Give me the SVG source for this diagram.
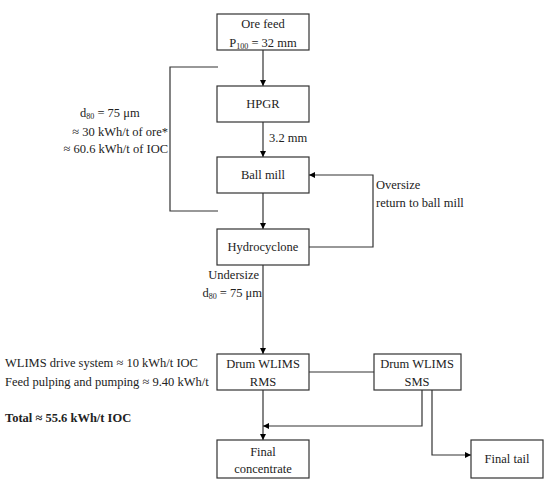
<svg xmlns="http://www.w3.org/2000/svg" width="550" height="485" viewBox="0 0 550 485">
<defs>
<marker id="ah" viewBox="0 0 8 8" refX="8" refY="4" markerWidth="6" markerHeight="6" markerUnits="userSpaceOnUse" orient="auto">
<path d="M0,0 L8,4 L0,8 z" fill="#000"/>
</marker>
</defs>
<style>
.box{fill:#fff;stroke:#333;stroke-width:1.2}
.ln{fill:none;stroke:#333;stroke-width:1.2}
text{font-family:'Liberation Serif','DejaVu Serif',serif;font-size:12.5px;fill:#222}
.c{text-anchor:middle}
.e{text-anchor:end}
.b{font-weight:bold}
.s{font-size:8px}
</style>
<rect width="550" height="485" fill="#fff"/>
<g id="connectors">
<line class="ln" x1="263" y1="50" x2="263" y2="86" marker-end="url(#ah)"/>
<line class="ln" x1="263" y1="122" x2="263" y2="157" marker-end="url(#ah)"/>
<line class="ln" x1="263" y1="193" x2="263" y2="229" marker-end="url(#ah)"/>
<polyline class="ln" points="309,247 373,247 373,175 309,175" marker-end="url(#ah)"/>
<line class="ln" x1="263" y1="265" x2="263" y2="354" marker-end="url(#ah)"/>
<line class="ln" x1="309" y1="372" x2="374" y2="372"/>
<line class="ln" x1="263" y1="390" x2="263" y2="440" marker-end="url(#ah)"/>
<polyline class="ln" points="422,390 422,426 263,426" marker-end="url(#ah)"/>
<polyline class="ln" points="432,390 432,455 471,455" marker-end="url(#ah)"/>
<polyline class="ln" points="218,67 170,67 170,211 218,211"/>
</g>
<g id="ore-feed">
<rect class="box" x="217" y="14" width="92" height="36"/>
<text class="c" x="263" y="28" font-family="Liberation Serif, DejaVu Serif, serif">Ore feed</text>
<text class="c" x="263" y="47">P<tspan class="s" dy="2">100</tspan><tspan dy="-2"> = 32 mm</tspan></text>
</g>
<g id="hpgr">
<rect class="box" x="217" y="86" width="92" height="36"/>
<text class="c" x="263" y="108">HPGR</text>
</g>
<g id="ball-mill">
<rect class="box" x="217" y="157" width="92" height="36"/>
<text class="c" x="263" y="179">Ball mill</text>
</g>
<g id="hydrocyclone">
<rect class="box" x="217" y="229" width="92" height="36"/>
<text class="c" x="263" y="251">Hydrocyclone</text>
</g>
<g id="drum-rms">
<rect class="box" x="217" y="354" width="92" height="36"/>
<text class="c" x="263" y="368">Drum WLIMS</text>
<text class="c" x="263" y="386">RMS</text>
</g>
<g id="drum-sms">
<rect class="box" x="374" y="354" width="87" height="36"/>
<text class="c" x="417" y="368">Drum WLIMS</text>
<text class="c" x="417" y="386">SMS</text>
</g>
<g id="final-concentrate">
<rect class="box" x="217" y="440" width="92" height="38"/>
<text class="c" x="263" y="456">Final</text>
<text class="c" x="263" y="473">concentrate</text>
</g>
<g id="final-tail">
<rect class="box" x="471" y="440" width="72" height="38"/>
<text class="c" x="507" y="463">Final tail</text>
</g>
<g id="labels">
<text x="80" y="117">d<tspan class="s" dy="2">80</tspan><tspan dy="-2"> = 75 μm</tspan></text>
<text class="e" x="168" y="136">≈ 30 kWh/t of ore*</text>
<text class="e" x="168" y="153">≈ 60.6 kWh/t of IOC</text>
<text x="269" y="142">3.2 mm</text>
<text x="376" y="189">Oversize</text>
<text x="376" y="207">return to ball mill</text>
<text class="e" x="259" y="279">Undersize</text>
<text class="e" x="262" y="297">d<tspan class="s" dy="2">80</tspan><tspan dy="-2"> = 75 μm</tspan></text>
<text x="5" y="367">WLIMS drive system ≈ 10 kWh/t IOC</text>
<text x="5" y="386">Feed pulping and pumping ≈ 9.40 kWh/t</text>
<text class="b" x="5" y="422">Total ≈ 55.6 kWh/t IOC</text>
</g>
</svg>
